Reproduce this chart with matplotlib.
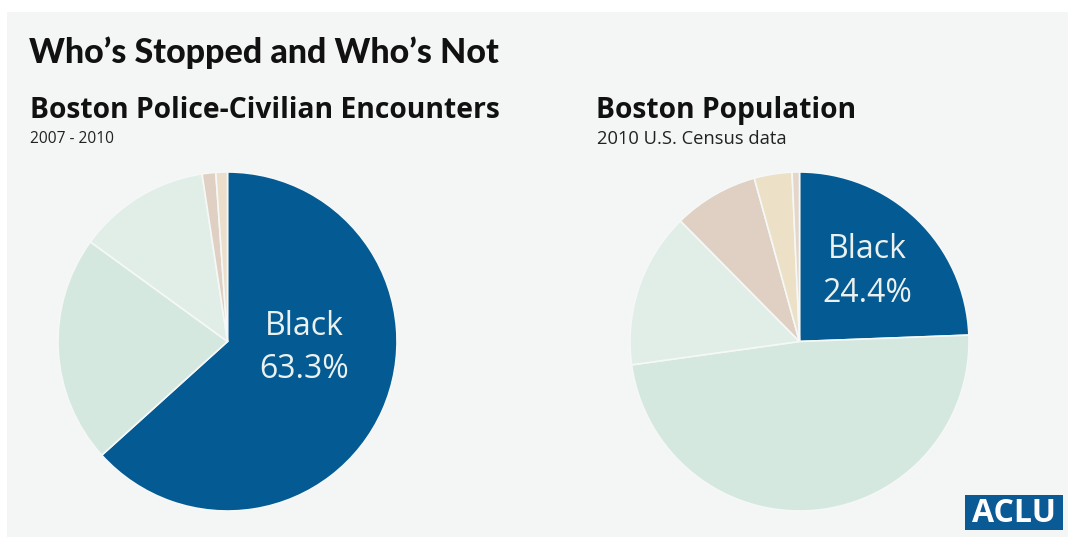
import matplotlib
matplotlib.use('Agg')
import matplotlib.pyplot as plt
from matplotlib.patches import Rectangle

plt.rcParams['font.family'] = ['Open Sans', 'DejaVu Sans']

# slices, clockwise from 12 o'clock
stops_groups = ['Black', 'White', 'Hispanic', 'Asian', 'Other']
stops_share = [63.3, 21.7, 12.6, 1.3, 1.1]
pop_groups = ['Black', 'White', 'Hispanic', 'Asian', 'Multi', 'Other']
pop_share = [24.4, 48.4, 14.8, 8.1, 3.6, 0.7]

stops_colors = ['#045a93', '#d5e8df', '#e1eee8', '#dfd0c3', '#ebdfcc']
pop_colors = ['#045a93', '#d5e8df', '#e1eee8', '#dfd0c3', '#ece0c6', '#e4d6c9']

W, H = 1068, 544
bg = '#f3f6f5'

fig = plt.figure(figsize=(W / 100, H / 100), dpi=100)
fig.patch.set_facecolor('white')
# light panel behind everything
panel = fig.add_axes([7 / W, 7 / H, 1 - 7 / W, (537 - 12) / H], zorder=-5)
panel.set_facecolor(bg)
panel.set_xticks([])
panel.set_yticks([])
for s in panel.spines.values():
    s.set_visible(False)


def px(x, y):
    return x / W, 1 - y / H


def draw_pie(cx, cy, r, values, colors):
    ax = fig.add_axes([(cx - r) / W, 1 - (cy + r) / H, 2 * r / W, 2 * r / H])
    ax.pie(values, colors=colors, startangle=90, counterclock=False,
           wedgeprops=dict(edgecolor='#f5f8f6', linewidth=1.2))
    ax.set_xlim(-1, 1)
    ax.set_ylim(-1, 1)
    ax.set_aspect('auto')
    ax.axis('off')
    return ax


draw_pie(227.5, 341.5, 169.5, stops_share, stops_colors)
draw_pie(799.5, 341.5, 169.5, pop_share, pop_colors)

# texts
x, y = px(29, 63)
fig.text(x, y, 'Who\u2019s Stopped and Who\u2019s Not', fontsize=24.5,
         fontweight=900, color='#111111', va='baseline',
         family=['Lato', 'DejaVu Sans'])
x, y = px(30, 118)
fig.text(x, y, 'Boston Police-Civilian Encounters', fontsize=20.3,
         fontweight='bold', color='#111111', va='baseline')
x, y = px(30, 143)
fig.text(x, y, '2007 - 2010', fontsize=11.2, color='#222222', va='baseline')
x, y = px(596, 118)
fig.text(x, y, 'Boston Population', fontsize=20.3,
         fontweight='bold', color='#111111', va='baseline')
x, y = px(597, 144)
fig.text(x, y, '2010 U.S. Census data', fontsize=13.2, color='#222222',
         va='baseline')

lab_col = '#eaf1ee'
x, y = px(304, 335)
fig.text(x, y, stops_groups[0], fontsize=23, color=lab_col, ha='center', va='baseline')
x, y = px(304, 378)
fig.text(x, y, f'{stops_share[0]}%', fontsize=23, color=lab_col, ha='center', va='baseline')
x, y = px(867, 258)
fig.text(x, y, pop_groups[0], fontsize=23, color=lab_col, ha='center', va='baseline')
x, y = px(867, 301.5)
fig.text(x, y, f'{pop_share[0]}%', fontsize=23, color=lab_col, ha='center', va='baseline')

# ACLU badge
fig.patches.append(Rectangle((965 / W, 1 - 530 / H), 98 / W, 35 / H,
                             transform=fig.transFigure, facecolor='#0a5a96',
                             edgecolor='none', zorder=2))
x, y = px(1014, 513)
fig.text(x, y, 'ACLU', fontsize=23, fontweight='bold', color='white',
         ha='center', va='center', zorder=3)

fig.savefig('out.png', dpi=100, facecolor=fig.get_facecolor())
